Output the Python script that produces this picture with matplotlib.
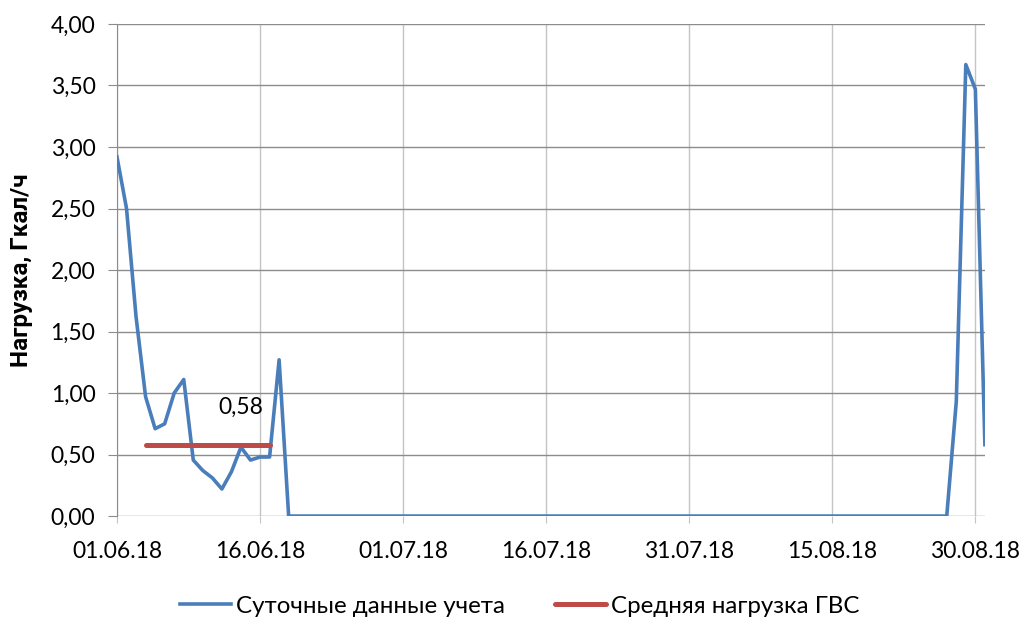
import numpy as np
import pandas as pd
import matplotlib
matplotlib.use('Agg')
import matplotlib.pyplot as plt
import matplotlib.dates as mdates
from matplotlib.ticker import MultipleLocator, FuncFormatter

plt.rcParams['font.family'] = ['Lato', 'DejaVu Sans']

# data
start_date = '2018-06-01'
daily_head = [2.92, 2.50, 1.62, 0.97, 0.71, 0.75, 1.00, 1.11, 0.455, 0.37,
              0.31, 0.22, 0.36, 0.56, 0.455, 0.48, 0.48, 1.27]
daily_zero_days = 70
daily_tail = [0.93, 3.67, 3.47, 0.58]
daily_values = daily_head + [0.0] * daily_zero_days + daily_tail

avg_value = 0.58
avg_start = '2018-06-04'
avg_end = '2018-06-17'
avg_label = '0,58'
label_date = '2018-06-14'

tick_dates = ['2018-06-01', '2018-06-16', '2018-07-01', '2018-07-16',
              '2018-07-31', '2018-08-15', '2018-08-30']

dates = pd.date_range(start_date, periods=len(daily_values), freq='D')

blue = '#4A7EBB'
red = '#BE4B48'

fig = plt.figure(figsize=(10.27, 6.21), dpi=100)
ax = fig.add_axes([0.1139, 0.169, 0.959 - 0.1139, 0.9614 - 0.169])

ax.plot(dates, daily_values, color=blue, lw=2.6, label='Суточные данные учета', zorder=3)
ax.plot(pd.to_datetime([avg_start, avg_end]), [avg_value, avg_value], color=red, lw=3.6,
        solid_capstyle='round', label='Средняя нагрузка ГВС', zorder=4)
ax.text(pd.to_datetime(label_date), 0.885, avg_label, ha='center', va='center',
        fontsize=16.5, color='black')

ax.set_xlim(dates[0], dates[-1])
ax.set_ylim(0, 4)
ax.yaxis.set_major_locator(MultipleLocator(0.5))
ax.yaxis.set_major_formatter(FuncFormatter(lambda v, p: ('%.2f' % v).replace('.', ',')))
ax.set_xticks(pd.to_datetime(tick_dates))
ax.xaxis.set_major_formatter(mdates.DateFormatter('%d.%m.%y'))

ax.grid(axis='y', color='#8C8C8C', lw=1.0, zorder=0)
ax.grid(axis='x', color='#C4C4C4', lw=1.0, zorder=0)
for s in ['top', 'right', 'bottom']:
    ax.spines[s].set_visible(False)
ax.spines['left'].set_color('#8C8C8C')
ax.tick_params(axis='both', direction='out', color='#8C8C8C', labelsize=16.5)
ax.tick_params(axis='x', length=5, color='#C4C4C4', pad=13)
ax.tick_params(axis='y', length=6.5, pad=9)

ax.set_ylabel('Нагрузка, Гкал/ч', fontsize=17.5, fontweight='bold',
              family=['Roboto', 'DejaVu Sans'])
ax.yaxis.set_label_coords(-0.097, 0.5)

ax.legend(loc='center', bbox_to_anchor=(0.464, -0.183), ncol=2, frameon=False,
          fontsize=17.4, handlelength=2.1, handletextpad=0.2, columnspacing=2.1)

fig.savefig('out.png', dpi=100)
